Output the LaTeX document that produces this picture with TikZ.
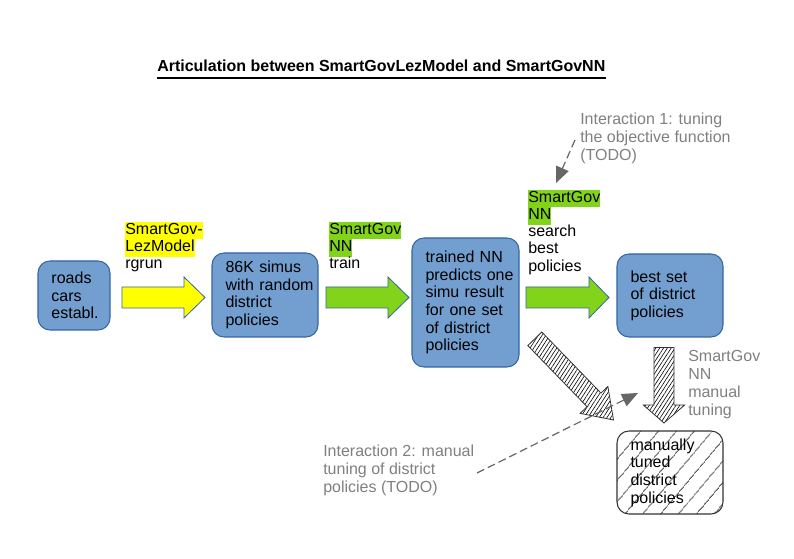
\documentclass[tikz,border=0pt]{standalone}
\usepackage{fontspec}
\setmainfont{Liberation Sans}
\usetikzlibrary{calc,patterns,patterns.meta,arrows.meta}
\definecolor{boxfill}{HTML}{729FCF}
\definecolor{boxline}{HTML}{3465A4}
\definecolor{hlyellow}{HTML}{FFFF00}
\definecolor{hlgreen}{HTML}{81D41A}
\definecolor{txtgray}{HTML}{808080}
\definecolor{dashgray}{HTML}{666666}
\definecolor{hatchline}{HTML}{333333}
\newcommand\hlt[2]{{\setlength{\fboxsep}{0pt}\colorbox{#1}{\strut #2}}}
% #1 style, #2 tail, #3 tip, #4 shaft half width, #5 head half width, #6 head length
\newcommand\blockarrow[6]{%
  \coordinate (#3n) at ($(#3)!#6!(#2)$);
  \draw[#1] ($(#2)!#4!90:(#3)$) -- ($(#3n)!#4!90:(#3)$) -- ($(#3n)!#5!90:(#3)$) -- (#3)
    -- ($(#3n)!#5!-90:(#3)$) -- ($(#3n)!#4!-90:(#3)$) -- ($(#2)!#4!-90:(#3)$) -- cycle;}
\begin{document}
\begin{tikzpicture}[x=0.75pt,y=-0.75pt,
  box/.style={draw=boxline, fill=boxfill, line width=0.8pt, rounded corners=9pt,
    align=left, inner xsep=10.125pt, inner ysep=0pt,
    execute at begin node={\hyphenpenalty=10000\exhyphenpenalty=10000},
    font=\fontsize{12}{13.2}\selectfont},
  hatchbox/.style={box, draw=hatchline, fill=none,
    pattern={Lines[angle=50,distance=10.5pt,line width=0.6pt]}, pattern color=black},
  lbl/.style={anchor=north west, inner sep=0pt, align=left,
    font=\fontsize{12}{12.9}\selectfont},
  graytxt/.style={anchor=north west, inner sep=0pt, align=left, text=txtgray,
    font=\fontsize{12}{13.5}\selectfont},
  yarrow/.style={draw=boxline, line width=0.6pt, fill=hlyellow},
  garrow/.style={draw=boxline, line width=0.6pt, fill=hlgreen},
  harrow/.style={draw=hatchline, line width=0.6pt, preaction={fill=white},
    pattern={Lines[angle=57,distance=2.4pt,line width=0.45pt]}, pattern color=black},
  dashar/.style={draw=dashgray, line width=0.9pt, dash pattern=on 6pt off 3pt,
    -{Triangle[length=12pt,width=10pt]}}
]
\fill[white] (0,0) rectangle (794,559);
\useasboundingbox (0,0) rectangle (794,559);

% title
\node[anchor=base west, inner sep=0pt, font=\fontsize{12}{14}\selectfont\bfseries]
  (title) at (157,71.7) {Articulation between SmartGovLezModel and SmartGovNN};
\draw[line width=0.9pt] ([yshift=-4.8pt]title.base west) -- ([yshift=-4.8pt]title.base east);

% boxes
\node[box, text width=33.75pt, minimum height=51.75pt] (roads) at (74,295.5)
  {roads\\cars\\establ.};
\node[box, text width=59.25pt, minimum height=63pt] (sim) at (265,295)
  {86K~simus\\with~random\\district\\policies};
\node[box, text width=60pt, minimum height=96.75pt] (nn) at (465.5,302.5)
  {trained~NN\\predicts~one\\simu~result\\for~one~set\\of~district\\policies};
\node[box, text width=59.25pt, minimum height=62.25pt] (best) at (670,295.5)
  {best~set\\of~district\\policies};
\node[hatchbox, text width=59.25pt, minimum height=62.25pt] (manual) at (670,472.5)
  {manually\\tuned\\district\\policies};

% block arrows
\coordinate (yaTail) at (122,297.5); \coordinate (yaTip) at (205,297.5);
\blockarrow{yarrow}{yaTail}{yaTip}{7.875pt}{15.375pt}{15.75pt}
\coordinate (gaTail) at (326,297.5); \coordinate (gaTip) at (409,297.5);
\blockarrow{garrow}{gaTail}{gaTip}{7.875pt}{15.375pt}{15.75pt}
\coordinate (gbTail) at (526,297.5); \coordinate (gbTip) at (609,297.5);
\blockarrow{garrow}{gbTail}{gbTip}{7.875pt}{15.375pt}{15pt}
\coordinate (daTail) at (534.8,338.8); \coordinate (daTip) at (613.5,420);
\blockarrow{harrow}{daTail}{daTip}{7.3pt}{14.5pt}{21pt}
\coordinate (vaTail) at (664,347.5); \coordinate (vaTip) at (664,423);
\blockarrow{harrow}{vaTail}{vaTip}{7.5pt}{15.5pt}{13.5pt}

% arrow labels
\node[lbl] (ylab) at (125,222)
  {\hlt{hlyellow}{SmartGov-}\\\hlt{hlyellow}{LezModel}\\rgrun};
\node[lbl] (glab1) at (329,222)
  {\hlt{hlgreen}{SmartGov}\\\hlt{hlgreen}{NN}\\train};
\node[lbl] (glab2) at (528,190)
  {\hlt{hlgreen}{SmartGov}\\\hlt{hlgreen}{NN}\\search\\best\\policies};

% gray annotations
\node[graytxt] (int1) at (580,113) {Interaction 1: tuning\\the objective function\\(TODO)};
\node[graytxt] (mtun) at (688,350) {SmartGov\\NN\\manual\\tuning};
\node[graytxt] (int2) at (323,445) {Interaction 2: manual\\tuning of district\\policies (TODO)};

% dashed interaction arrows
\coordinate (d1s) at (575,140); \coordinate (d1e) at (556,183);
\draw[dashar] (d1s) -- (d1e);
\coordinate (d2s) at (477,473); \coordinate (d2e) at (638,393);
\draw[dashar] (d2s) -- (d2e);
\end{tikzpicture}
\end{document}
